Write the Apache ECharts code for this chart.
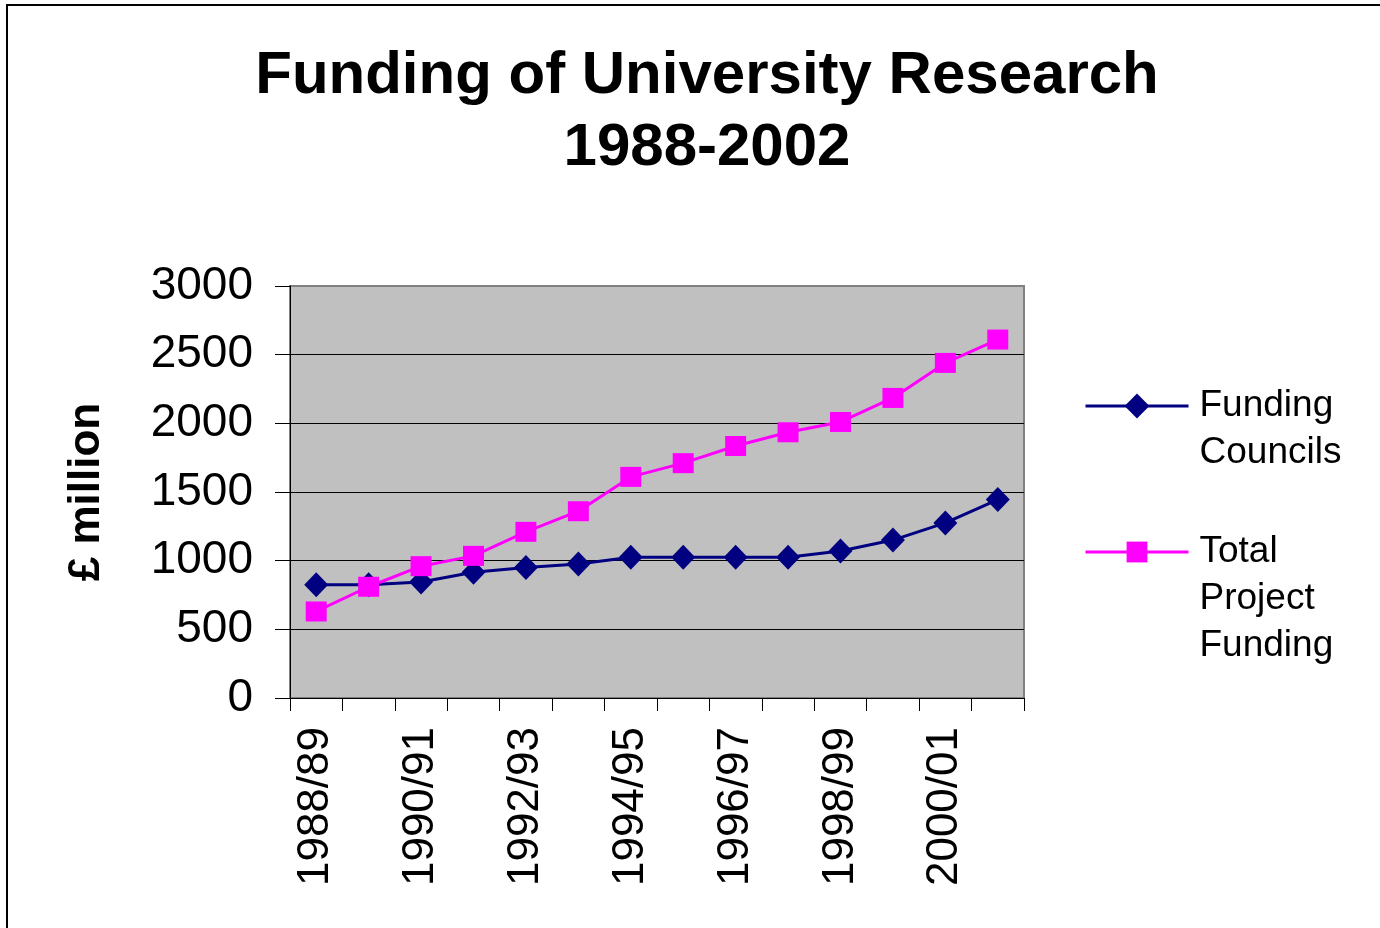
<!DOCTYPE html>
<html>
<head>
<meta charset="utf-8">
<style>
html,body{margin:0;padding:0;background:#fff;}
#chart{width:1380px;height:928px;}
</style>
<script src="https://cdn.jsdelivr.net/npm/echarts@6/dist/echarts.min.js"></script>
</head>
<body>
<div id="chart"></div>
<script>
const categories = ['1988/89','1989/90','1990/91','1991/92','1992/93','1993/94','1994/95','1995/96','1996/97','1997/98','1998/99','1999/00','2000/01','2001/02'];
const fundingCouncils = [825, 825, 845, 915, 950, 975, 1025, 1025, 1025, 1025, 1070, 1150, 1275, 1445];
const totalProjectFunding = [630, 810, 960, 1035, 1210, 1360, 1610, 1710, 1835, 1935, 2010, 2185, 2440, 2610];
const seriesNames = ['Funding Councils', 'Total Project Funding'];
const titleText = 'Funding of University Research\n1988-2002';
const yAxisName = '£ million';

const FONT = '"Liberation Sans", Arial, sans-serif';
const chart = echarts.init(document.getElementById('chart'), null, {renderer: 'canvas'});

function legendFmt(name) {
  const parts = name.split(' ');
  const pad = new Array(parts.length - 1).fill('').join('\n');
  return (parts.length > 1 ? pad + '\n' : '') + parts.join('\n');
}

const legendCommon = {
  orient: 'vertical',
  left: 1079,
  itemWidth: 103,
  formatter: legendFmt,
  selectedMode: false,
  lineStyle: {width: 3},
  textStyle: {fontFamily: FONT, fontSize: 37, lineHeight: 47, color: '#000', padding: [0, 0, 0, 6]}
};

chart.setOption({
  animation: false,
  backgroundColor: '#fff',
  textStyle: {fontFamily: FONT},
  graphic: [{
    type: 'rect',
    shape: {x: 7, y: 5, width: 1500, height: 1100},
    style: {fill: 'none', stroke: '#000', lineWidth: 2},
    silent: true
  }],
  title: {
    text: titleText,
    left: 702,
    top: 35,
    textAlign: 'center',
    textStyle: {fontFamily: FONT, fontSize: 60, fontWeight: 'bold', lineHeight: 72, color: '#000'}
  },
  legend: [
    Object.assign({}, legendCommon, {data: [seriesNames[0]], itemHeight: 31, top: 406 - 70.5 - 5}),
    Object.assign({}, legendCommon, {data: [seriesNames[1]], itemHeight: 26, top: 552 - 117.5 - 5})
  ],
  grid: {
    left: 290, top: 286, width: 734, height: 412,
    show: true,
    backgroundColor: '#c0c0c0',
    borderColor: '#808080',
    borderWidth: 2
  },
  xAxis: {
    type: 'category',
    data: categories,
    boundaryGap: true,
    axisLine: {show: true, lineStyle: {color: '#000', width: 1}},
    axisTick: {show: true, interval: 0, length: 13, lineStyle: {color: '#000', width: 1}},
    axisLabel: {interval: 1, rotate: 90, margin: 29, fontSize: 44, color: '#000', fontFamily: FONT},
    splitLine: {show: false}
  },
  yAxis: {
    type: 'value',
    min: 0, max: 3000, interval: 500,
    name: yAxisName,
    nameLocation: 'middle',
    nameRotate: 90,
    nameGap: 165,
    nameTextStyle: {fontFamily: FONT, fontSize: 44, fontWeight: 'bold', color: '#000', padding: [0, 0, 16, 0]},
    axisLine: {show: true, lineStyle: {color: '#000', width: 1}},
    axisTick: {show: true, length: 15, lineStyle: {color: '#000', width: 1}},
    axisLabel: {margin: 37, fontSize: 46, color: '#000', fontFamily: FONT, formatter: function (v) { return String(v); }},
    splitLine: {show: true, showMaxLine: false, showMinLine: false, lineStyle: {color: '#000', width: 1}}
  },
  series: [
    {
      name: seriesNames[0],
      type: 'line',
      data: fundingCouncils,
      symbol: 'diamond',
      symbolSize: [24, 25],
      lineStyle: {color: '#000080', width: 3},
      itemStyle: {color: '#000080'}
    },
    {
      name: seriesNames[1],
      type: 'line',
      data: totalProjectFunding,
      symbol: 'rect',
      symbolSize: [21, 20],
      lineStyle: {color: '#ff00ff', width: 3},
      itemStyle: {color: '#ff00ff'}
    }
  ]
});
</script>
</body>
</html>
